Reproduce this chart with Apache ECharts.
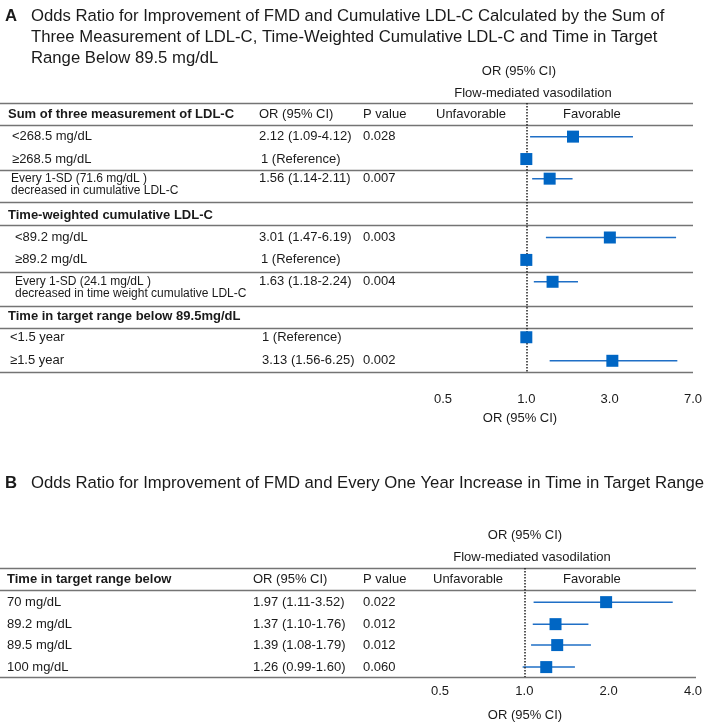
<!DOCTYPE html>
<html>
<head>
<meta charset="utf-8">
<script src="https://cdn.jsdelivr.net/npm/echarts@6/dist/echarts.min.js"></script>
<style>
  html, body { margin: 0; padding: 0; background: #fff; }
  #main { width: 705px; height: 723px; }
</style>
</head>
<body>
<div id="main"></div>
<script>
"use strict";

// ---- panel A data
var groupsA = ['Sum of three measurement of LDL-C', 'Time-weighted cumulative LDL-C', 'Time in target range below 89.5mg/dL'];
var labelsA = ['<268.5 mg/dL', '\u2265268.5 mg/dL', 'Every 1-SD (71.6 mg/dL )|decreased in cumulative LDL-C',
	'<89.2 mg/dL', '\u226589.2 mg/dL', 'Every 1-SD (24.1 mg/dL )|decreased in time weight cumulative LDL-C',
	'<1.5 year', '\u22651.5 year'];
var orA = [2.12, 1, 1.56, 3.01, 1, 1.63, 1, 3.13];
var loA = [1.09, null, 1.14, 1.47, null, 1.18, null, 1.56];
var hiA = [4.12, null, 2.11, 6.19, null, 2.24, null, 6.25];
var pA = ['0.028', '', '0.007', '0.003', '', '0.004', '', '0.002'];
var ticksA = [0.5, 1.0, 3.0, 7.0];

// ---- panel B data
var groupB = 'Time in target range below';
var labelsB = ['70 mg/dL', '89.2 mg/dL', '89.5 mg/dL', '100 mg/dL'];
var orB = [1.97, 1.37, 1.39, 1.26];
var loB = [1.11, 1.10, 1.08, 0.99];
var hiB = [3.52, 1.76, 1.79, 1.60];
var pB = ['0.022', '0.012', '0.012', '0.060'];
var ticksB = [0.5, 1.0, 2.0, 4.0];

// ---- layout (row slots on the hidden y axis)
var rowSlotA = [3, 5, 6.75, 12, 14, 15.95, 20.9, 23];
var rowXA = [12, 12, 11, 15, 15, 15, 10, 10];
var orXA = [259, 261, 259, 259, 261, 259, 262, 262];
var groupSlotA = [1, 10, 19.05];
var ruleSlotA = [0, 2, 6, 8.85, 10.85, 15.1, 18.1, 20.1, 24];
var rowSlotB = [3.1, 5.1, 7, 9];
var ruleSlotB = [0, 2, 9.9];

var FONT = '"Liberation Sans", Arial, Helvetica, sans-serif';
var INK = '#1a1a1a';
var BLUE = '#0066c4';
var gridA = {left: 443, top: 103, width: 252, height: 269, max: 24};
var gridB = {left: 440, top: 568, width: 255, height: 109, max: 9.9};

// piecewise position between tick labels (each tick gap is one unit)
function pos(v, ticks) {
	for (var i = 0; i < ticks.length - 1; i++) {
		if (v <= ticks[i + 1]) {
			return i + (v - ticks[i]) / (ticks[i + 1] - ticks[i]);
		}
	}
	return ticks.length - 1;
}

function orText(o, l, h) {
	if (l === null) return '1 (Reference)';
	return o.toFixed(2) + ' (' + l.toFixed(2) + '-' + h.toFixed(2) + ')';
}

function ypx(g, slot) {
	return g.top + slot * g.height / g.max;
}

var gr = [];
function txt(s, x, y, size, bold, align) {
	gr.push({
		type: 'text', x: x, y: y, silent: true,
		style: {
			text: s, fill: INK, align: align || 'left', verticalAlign: 'middle',
			font: (bold ? 'bold ' : '') + size + 'px ' + FONT
		}
	});
}
function rule(g, slot, x2) {
	var y = Math.round(ypx(g, slot)) + 0.5;
	gr.push({
		type: 'line', silent: true,
		shape: {x1: 0, y1: y, x2: x2, y2: y},
		style: {stroke: '#747474', lineWidth: 1.5}
	});
}

// titles
var TS = 16.7;
txt('A', 5, 16, TS, true);
txt('Odds Ratio for Improvement of FMD and Cumulative LDL-C Calculated by the Sum of', 31, 16, TS);
txt('Three Measurement of LDL-C, Time-Weighted Cumulative LDL-C and Time in Target', 31, 37, TS);
txt('Range Below 89.5 mg/dL', 31, 58, TS);
txt('B', 5, 483, TS, true);
txt('Odds Ratio for Improvement of FMD and Every One Year Increase in Time in Target Range', 31, 483, TS);

// panel A table
txt('OR (95% CI)', 519, 71, 13, false, 'center');
txt('Flow-mediated vasodilation', 533, 93, 13, false, 'center');
ruleSlotA.forEach(function (s) { rule(gridA, s, 693); });
var hA = ypx(gridA, groupSlotA[0]);
txt('OR (95% CI)', 259, hA, 13);
txt('P value', 363, hA, 13);
txt('Unfavorable', 436, hA, 13);
txt('Favorable', 563, hA, 13);
groupsA.forEach(function (g, i) { txt(g, 8, ypx(gridA, groupSlotA[i]), 13, true); });
labelsA.forEach(function (lab, i) {
	var y = ypx(gridA, rowSlotA[i]);
	var parts = lab.split('|');
	if (parts.length > 1) {
		txt(parts[0], rowXA[i], y, 12);
		txt(parts[1], rowXA[i], ypx(gridA, rowSlotA[i] + 1.05), 12);
	} else {
		txt(lab, rowXA[i], y, 13);
	}
	txt(orText(orA[i], loA[i], hiA[i]), orXA[i], y, 13);
	txt(pA[i], 363, y, 13);
});
txt('OR (95% CI)', 520, 418, 13, false, 'center');

// panel B table
txt('OR (95% CI)', 525, 535, 13, false, 'center');
txt('Flow-mediated vasodilation', 532, 557, 13, false, 'center');
ruleSlotB.forEach(function (s) { rule(gridB, s, 696); });
var hB = ypx(gridB, 1);
txt(groupB, 7, hB, 13, true);
txt('OR (95% CI)', 253, hB, 13);
txt('P value', 363, hB, 13);
txt('Unfavorable', 433, hB, 13);
txt('Favorable', 563, hB, 13);
labelsB.forEach(function (lab, i) {
	var y = ypx(gridB, rowSlotB[i]);
	txt(lab, 7, y, 13);
	txt(orText(orB[i], loB[i], hiB[i]), 253, y, 13);
	txt(pB[i], 363, y, 13);
});
txt('OR (95% CI)', 525, 715, 13, false, 'center');

function ciData(o, l, h, slots, ticks) {
	var d = [];
	for (var i = 0; i < o.length; i++) {
		if (l[i] !== null) d.push([pos(l[i], ticks), pos(h[i], ticks), slots[i]]);
	}
	return d;
}
function ptData(o, slots, ticks) {
	return o.map(function (v, i) { return [pos(v, ticks), slots[i]]; });
}

function renderCI(params, api) {
	var a = api.coord([api.value(0), api.value(2)]);
	var b = api.coord([api.value(1), api.value(2)]);
	return {
		type: 'line',
		shape: {x1: a[0], y1: a[1], x2: b[0], y2: b[1]},
		style: {stroke: '#1f6fc6', lineWidth: 1.5}
	};
}

function xAxisFor(idx, ticks, margin) {
	return {
		type: 'value', gridIndex: idx, min: 0, max: ticks.length - 1, interval: 1,
		axisLine: {show: false}, axisTick: {show: false}, splitLine: {show: false},
		axisLabel: {
			margin: margin, color: INK, fontSize: 13, fontFamily: FONT,
			formatter: function (v) { return ticks[Math.round(v)].toFixed(1); }
		}
	};
}
function yAxisFor(idx, g) {
	return {
		type: 'value', gridIndex: idx, min: 0, max: g.max, inverse: true, show: false
	};
}

function dotted(ticks) {
	return {
		silent: true, symbol: 'none', label: {show: false},
		lineStyle: {type: 'dotted', color: '#222', width: 1.5},
		data: [{xAxis: pos(1, ticks)}]
	};
}

var chart = echarts.init(document.getElementById('main'));
chart.setOption({
	animation: false,
	backgroundColor: '#fff',
	grid: [
		{left: gridA.left, top: gridA.top, width: gridA.width, height: gridA.height},
		{left: gridB.left, top: gridB.top, width: gridB.width, height: gridB.height}
	],
	xAxis: [xAxisFor(0, ticksA, 21), xAxisFor(1, ticksB, 8)],
	yAxis: [yAxisFor(0, gridA), yAxisFor(1, gridB)],
	series: [
		{
			type: 'custom', xAxisIndex: 0, yAxisIndex: 0, renderItem: renderCI, z: 2,
			encode: {x: [0, 1], y: 2}, data: ciData(orA, loA, hiA, rowSlotA, ticksA),
			markLine: dotted(ticksA)
		},
		{
			type: 'scatter', xAxisIndex: 0, yAxisIndex: 0, symbol: 'rect', symbolSize: 12, z: 5,
			itemStyle: {color: BLUE, opacity: 1}, data: ptData(orA, rowSlotA, ticksA)
		},
		{
			type: 'custom', xAxisIndex: 1, yAxisIndex: 1, renderItem: renderCI, z: 2,
			encode: {x: [0, 1], y: 2}, data: ciData(orB, loB, hiB, rowSlotB, ticksB),
			markLine: dotted(ticksB)
		},
		{
			type: 'scatter', xAxisIndex: 1, yAxisIndex: 1, symbol: 'rect', symbolSize: 12, z: 5,
			itemStyle: {color: BLUE, opacity: 1}, data: ptData(orB, rowSlotB, ticksB)
		}
	],
	graphic: gr
});
</script>
</body>
</html>
